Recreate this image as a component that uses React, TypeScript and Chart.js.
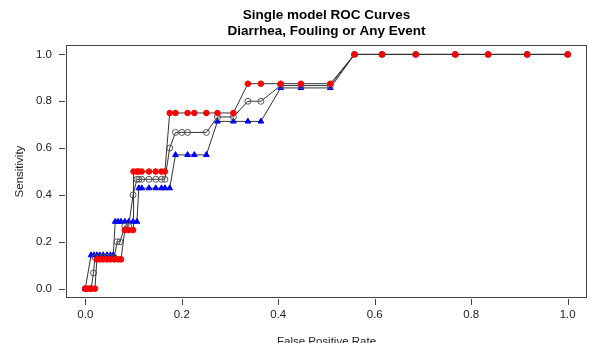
import React, { useEffect, useRef } from "react";
import { Chart, registerables } from "chart.js";

Chart.register(...registerables);

const TITLE_LINES = ["Single model ROC Curves", "Diarrhea, Fouling or Any Event"];
const X_LABEL = "False Positive Rate";
const Y_LABEL = "Sensitivity";
const TICKS = [0, 0.2, 0.4, 0.6, 0.8, 1.0];

// Diarrhea (red filled circles)
const redFpr = [0, 0.006, 0.012, 0.02, 0.024, 0.03, 0.037, 0.045, 0.052, 0.06, 0.068, 0.074, 0.082, 0.09, 0.099, 0.1, 0.107, 0.111, 0.117, 0.132, 0.146, 0.158, 0.165, 0.175, 0.187, 0.212, 0.226, 0.251, 0.274, 0.307, 0.337, 0.364, 0.405, 0.447, 0.508, 0.558, 0.615, 0.685, 0.767, 0.835, 0.916, 1.0];
const redSens = [0, 0, 0, 0, 0.125, 0.125, 0.125, 0.125, 0.125, 0.125, 0.125, 0.125, 0.25, 0.25, 0.25, 0.5, 0.5, 0.5, 0.5, 0.5, 0.5, 0.5, 0.5, 0.75, 0.75, 0.75, 0.75, 0.75, 0.75, 0.75, 0.875, 0.875, 0.875, 0.875, 0.875, 1, 1, 1, 1, 1, 1, 1];

// Any event (black open circles)
const blackFpr = [0, 0.012, 0.017, 0.02, 0.03, 0.037, 0.045, 0.052, 0.06, 0.066, 0.072, 0.082, 0.09, 0.099, 0.107, 0.111, 0.117, 0.132, 0.146, 0.158, 0.165, 0.175, 0.187, 0.2, 0.212, 0.251, 0.274, 0.307, 0.337, 0.364, 0.405, 0.447, 0.508, 0.558, 0.615, 0.685, 0.767, 0.835, 0.916, 1.0];
const blackSens = [0, 0, 0.067, 0.133, 0.133, 0.133, 0.133, 0.133, 0.133, 0.2, 0.2, 0.267, 0.267, 0.4, 0.467, 0.467, 0.467, 0.467, 0.467, 0.467, 0.467, 0.6, 0.667, 0.667, 0.667, 0.667, 0.733, 0.733, 0.8, 0.8, 0.867, 0.867, 0.867, 1, 1, 1, 1, 1, 1, 1];

// Fouling (blue filled triangles)
const blueFpr = [0, 0.012, 0.018, 0.024, 0.03, 0.037, 0.045, 0.052, 0.058, 0.062, 0.068, 0.074, 0.082, 0.09, 0.099, 0.107, 0.111, 0.117, 0.132, 0.146, 0.158, 0.165, 0.175, 0.187, 0.212, 0.226, 0.251, 0.274, 0.307, 0.337, 0.364, 0.405, 0.447, 0.508, 0.558, 0.615, 0.685, 0.767, 0.835, 0.916, 1.0];
const blueSens = [0, 0.143, 0.143, 0.143, 0.143, 0.143, 0.143, 0.143, 0.143, 0.286, 0.286, 0.286, 0.286, 0.286, 0.286, 0.286, 0.429, 0.429, 0.429, 0.429, 0.429, 0.429, 0.429, 0.571, 0.571, 0.571, 0.571, 0.714, 0.714, 0.714, 0.714, 0.857, 0.857, 0.857, 1, 1, 1, 1, 1, 1, 1];

const pts = (xs: number[], ys: number[]) => xs.map((x, i) => ({ x, y: ys[i] }));

const FONT = "'Liberation Sans', Arial, sans-serif";

const framePlugin = {
  id: "rframe",
  afterDraw(chart: any) {
    const { ctx, chartArea: a, scales } = chart;
    ctx.save();
    ctx.strokeStyle = "#444";
    ctx.lineWidth = 1;
    ctx.strokeRect(Math.round(a.left) + 0.5, Math.round(a.top) + 0.5, Math.round(a.right - a.left) - 1, Math.round(a.bottom - a.top) - 1);
    ctx.beginPath();
    for (const v of TICKS) {
      const px = Math.round(scales.x.getPixelForValue(v)) + 0.5;
      ctx.moveTo(px, a.bottom + 1);
      ctx.lineTo(px, a.bottom + 7);
      const py = Math.round(scales.y.getPixelForValue(v)) + 0.5;
      ctx.moveTo(a.left - 1, py);
      ctx.lineTo(a.left - 7, py);
    }
    ctx.stroke();
    ctx.restore();
  },
};

export default function App() {
  const ref = useRef<HTMLCanvasElement | null>(null);
  useEffect(() => {
    if (!ref.current) return;
    const chart = new Chart(ref.current, {
      type: "line",
      data: {
        datasets: [
          {
            label: "Diarrhea",
            data: pts(redFpr, redSens),
            borderColor: "#333",
            borderWidth: 1,
            pointStyle: "circle",
            pointRadius: 2.8,
            pointBackgroundColor: "#ff0000",
            pointBorderColor: "#ff0000",
            pointBorderWidth: 1,
            tension: 0,
          },
          {
            label: "Any Event",
            data: pts(blackFpr, blackSens),
            borderColor: "#333",
            borderWidth: 1,
            pointStyle: "circle",
            pointRadius: 3,
            pointBackgroundColor: "rgba(0,0,0,0)",
            pointBorderColor: "#555",
            pointBorderWidth: 1,
            tension: 0,
          },
          {
            label: "Fouling",
            data: pts(blueFpr, blueSens),
            borderColor: "#333",
            borderWidth: 1,
            pointStyle: "triangle",
            pointRadius: 3.3,
            pointBackgroundColor: "#0000ff",
            pointBorderColor: "#0000ff",
            pointBorderWidth: 1,
            tension: 0,
          },
        ],
      },
      options: {
        animation: false,
        responsive: false,
        layout: { padding: { top: 0, right: 2, left: 0, bottom: 0 } },
        plugins: {
          legend: { display: false },
          tooltip: { enabled: false },
          title: {
            display: true,
            fullSize: false,
            text: TITLE_LINES,
            color: "#000",
            font: { family: FONT, size: 13.5, weight: "bold", lineHeight: 1.15 },
            padding: { top: 7.5, bottom: 6.5 },
          },
        },
        scales: {
          x: {
            type: "linear",
            min: -0.04,
            max: 1.04,
            afterBuildTicks: (s: any) => {
              s.ticks = TICKS.map((v) => ({ value: v }));
            },
            afterFit: (s: any) => {
              s.height = 45;
            },
            grid: { display: true, drawOnChartArea: false, drawTicks: true, tickLength: 8, color: "rgba(0,0,0,0)" },
            border: { display: false },
            ticks: {
              padding: 2,
              color: "#222",
              font: { family: FONT, size: 11.5 },
              maxRotation: 0,
              callback: (v: any) => Number(v).toFixed(1),
            },
            title: {
              display: true,
              text: X_LABEL,
              color: "#222",
              font: { family: FONT, size: 11.5 },
              padding: { top: 0, bottom: -6 },
            },
          },
          y: {
            type: "linear",
            min: -0.04,
            max: 1.04,
            afterBuildTicks: (s: any) => {
              s.ticks = TICKS.map((v) => ({ value: v }));
            },
            afterFit: (s: any) => {
              s.width = 66;
            },
            grid: { display: true, drawOnChartArea: false, drawTicks: true, tickLength: 8, color: "rgba(0,0,0,0)" },
            border: { display: false },
            ticks: {
              padding: 6,
              color: "#222",
              font: { family: FONT, size: 11.5 },
              callback: (v: any) => Number(v).toFixed(1),
            },
            title: {
              display: true,
              text: Y_LABEL,
              color: "#222",
              font: { family: FONT, size: 11.5 },
              padding: { top: 13, bottom: 0 },
            },
          },
        },
      },
      plugins: [framePlugin],
    });
    return () => chart.destroy();
  }, []);
  return (
    <div style={{ position: "fixed", left: 0, top: 0, width: 592, height: 343, background: "#fff" }}>
      <canvas ref={ref} width={592} height={343} style={{ width: 592, height: 343 }} />
    </div>
  );
}
